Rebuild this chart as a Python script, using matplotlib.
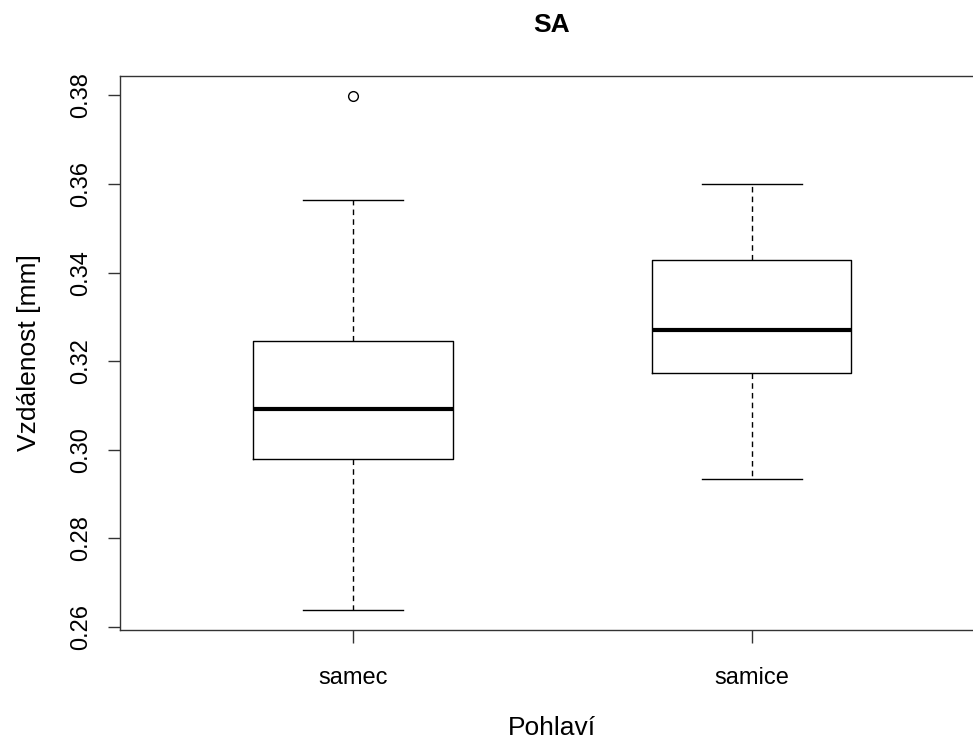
import matplotlib
matplotlib.use("Agg")
import matplotlib.pyplot as plt

plt.rcParams['font.family'] = ['Liberation Sans', 'DejaVu Sans']

# data
groups = ['samec', 'samice']
whislo = [0.2639, 0.2935]
q1 = [0.2980, 0.3173]
med = [0.3091, 0.3270]
q3 = [0.3245, 0.3429]
whishi = [0.3565, 0.3599]
fliers = [[0.3798], []]

stats = []
for i, g in enumerate(groups):
    stats.append({'label': g, 'whislo': whislo[i], 'q1': q1[i], 'med': med[i],
                  'q3': q3[i], 'whishi': whishi[i], 'fliers': fliers[i]})

fig = plt.figure(figsize=(9.73, 7.42), dpi=100)
ax = fig.add_axes([120 / 973, 112 / 742, 863 / 973, 554 / 742])

ax.bxp(stats, positions=[1, 2], widths=0.5, showfliers=True,
       boxprops=dict(color='black', linewidth=1),
       medianprops=dict(color='black', linewidth=3),
       whiskerprops=dict(color='black', linewidth=1, linestyle=(0, (4, 3))),
       capprops=dict(color='black', linewidth=1),
       capwidths=0.25,
       flierprops=dict(marker='o', markersize=7, markerfacecolor='none',
                       markeredgecolor='black', markeredgewidth=1))

ax.set_xlim(0.416, 2.58)
ax.set_ylim(0.2593, 0.3844)
ax.set_yticks([0.26, 0.28, 0.30, 0.32, 0.34, 0.36, 0.38])
ax.set_yticklabels(['0.26', '0.28', '0.30', '0.32', '0.34', '0.36', '0.38'],
                   rotation=90, va='center')
ax.tick_params(axis='y', length=9, width=1, pad=11, labelsize=17, colors='#333333',
               labelcolor='black')
ax.tick_params(axis='x', length=9, width=1, pad=18, labelsize=17, colors='#333333',
               labelcolor='black')

for s in ax.spines.values():
    s.set_color('#333333')
    s.set_linewidth(1)

ax.set_xlabel('Pohlaví', fontsize=19, labelpad=19)
ax.set_ylabel('Vzdálenost [mm]', fontsize=19, labelpad=21)
ax.set_title('SA', fontsize=19, fontweight='bold', pad=32)

fig.savefig('out.png', dpi=100)
